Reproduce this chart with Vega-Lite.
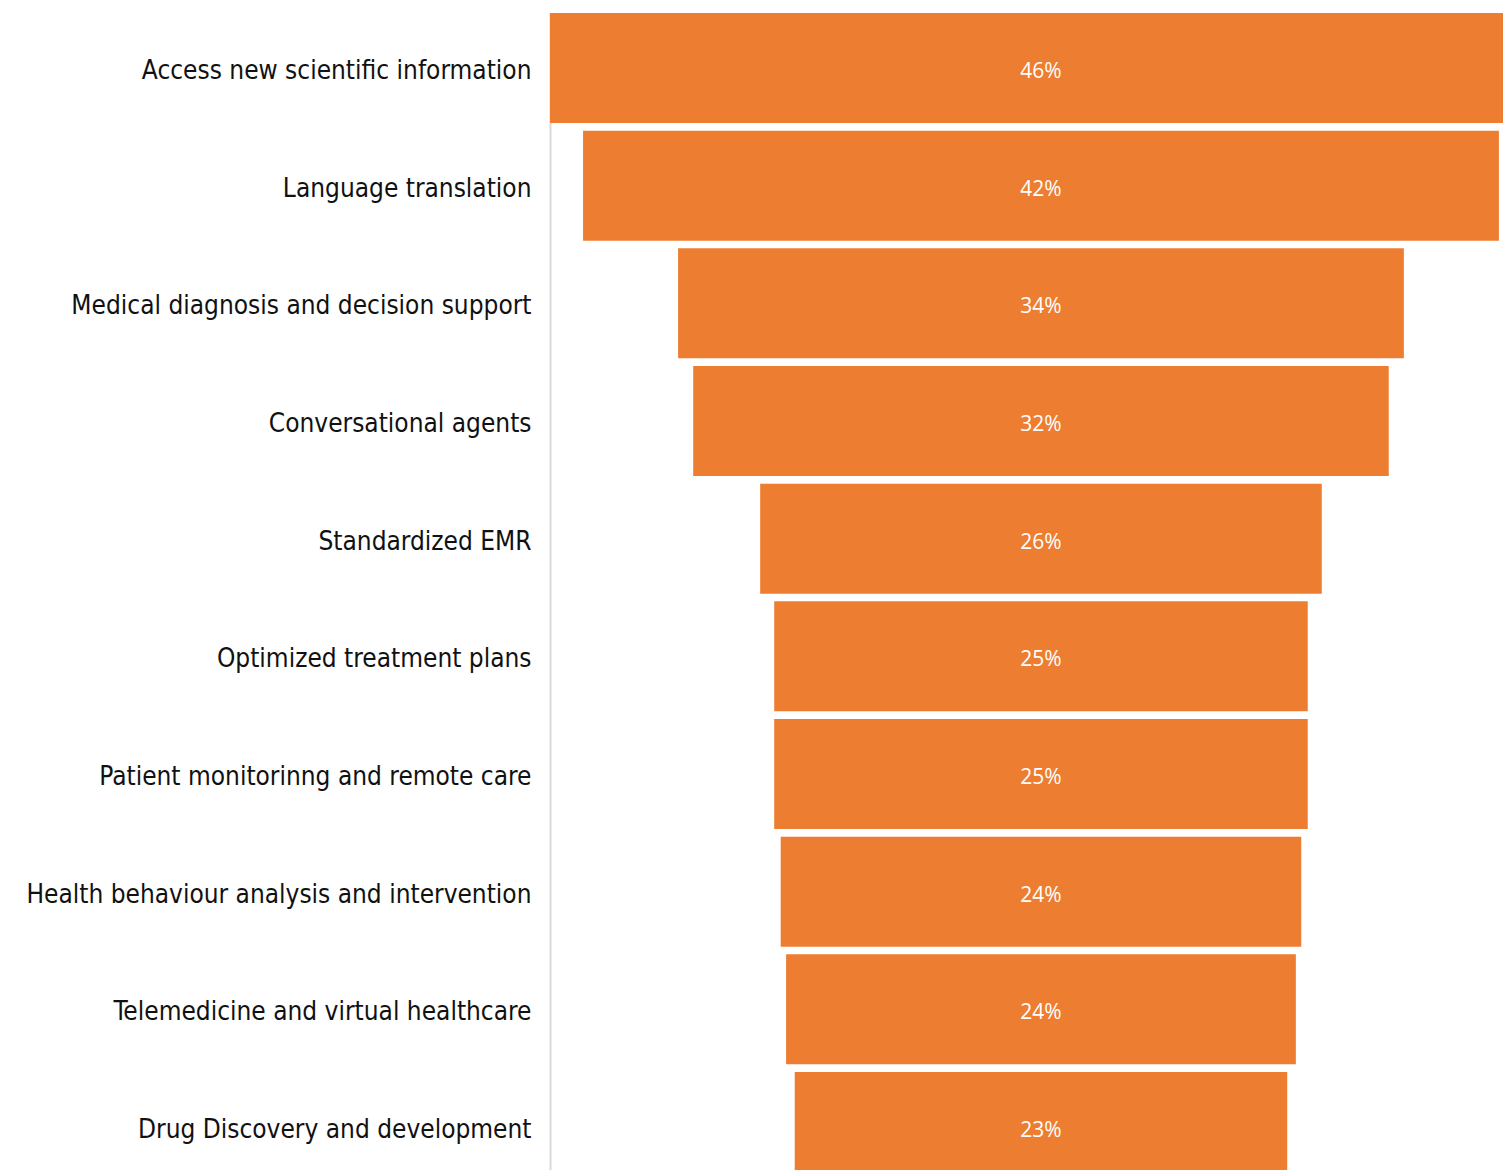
{
  "$schema": "https://vega.github.io/schema/vega-lite/v6.json",
  "autosize": {"type": "none"},
  "width": 953,
  "height": 1157,
  "padding": {"left": 550, "top": 13, "right": 0, "bottom": 0},
  "background": "white",
  "config": {"view": {"stroke": null}},
  "data": {
    "values": [
      {"category": "Access new scientific information", "value": 0.458},
      {"category": "Language translation", "value": 0.424},
      {"category": "Medical diagnosis and decision support", "value": 0.336},
      {"category": "Conversational agents", "value": 0.322},
      {"category": "Standardized EMR", "value": 0.26},
      {"category": "Optimized treatment plans", "value": 0.247},
      {"category": "Patient monitorinng and remote care", "value": 0.247},
      {"category": "Health behaviour analysis and intervention", "value": 0.241},
      {"category": "Telemedicine and virtual healthcare", "value": 0.236},
      {"category": "Drug Discovery and development", "value": 0.228}
    ]
  },
  "encoding": {
    "y": {
      "field": "category",
      "type": "nominal",
      "sort": null,
      "scale": {"paddingInner": 0.065, "paddingOuter": 0, "range": [0, 1169]},
      "axis": {
        "title": null,
        "ticks": false,
        "domainColor": "#d9d9d9",
        "domainWidth": 2,
        "labelFont": "DejaVu Sans Condensed",
        "labelFontSize": 26,
        "labelColor": "#111111",
        "labelPadding": 19,
        "labelOffset": 3,
        "labelLimit": 600
      }
    }
  },
  "layer": [
    {
      "mark": {"type": "bar", "color": "#ED7D31", "clip": true},
      "encoding": {
        "x": {
          "field": "value",
          "type": "quantitative",
          "stack": "center",
          "scale": {"domain": [0.0017, 0.4429], "nice": false, "zero": false},
          "axis": null
        }
      }
    },
    {
      "mark": {"type": "text", "color": "white", "font": "Open Sans", "fontSize": 21, "align": "center", "baseline": "middle", "dy": 4},
      "encoding": {
        "x": {"datum": 0.229, "type": "quantitative", "scale": {"domain": [0.0017, 0.4429], "nice": false, "zero": false}, "axis": null},
        "text": {"field": "value", "type": "quantitative", "format": ".0%"}
      }
    }
  ]
}
